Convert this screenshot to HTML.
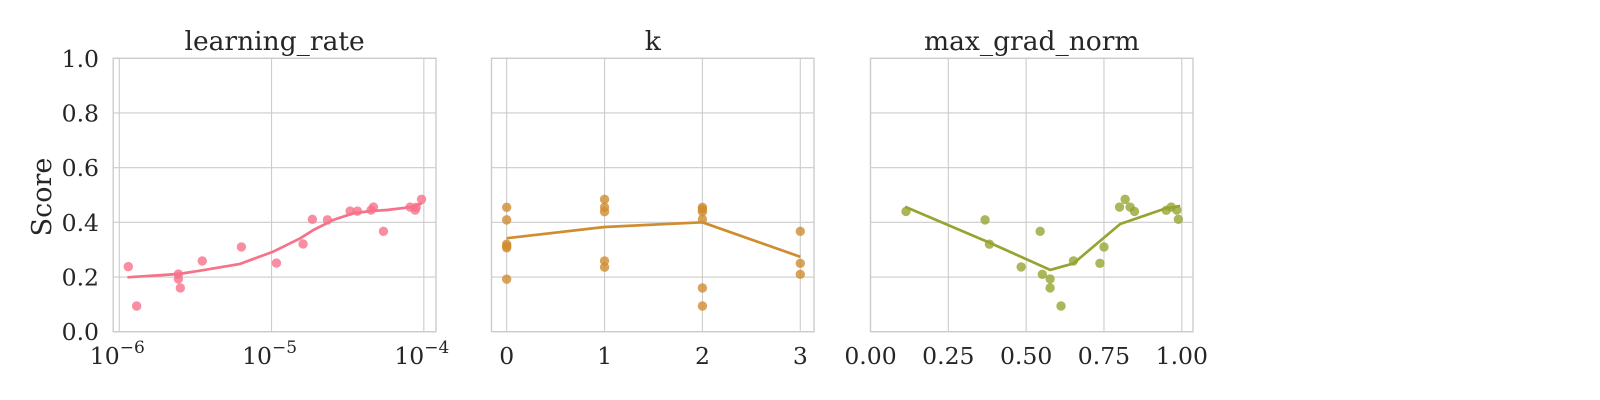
<!DOCTYPE html>
<html><head><meta charset="utf-8"><style>
html,body{margin:0;padding:0;background:#fff;}
svg{display:block;font-family:"DejaVu Serif","Liberation Serif",serif;}
</style></head><body>
<svg id="chart" width="1600" height="400" viewBox="0 0 1600 400" xmlns="http://www.w3.org/2000/svg"></svg>
<script>
// ---- data ----
const lrX = [-5.941,-5.886,-5.612,-5.612,-5.599,-5.455,-5.198,-4.968,-4.793,-4.732,-4.633,-4.484,-4.436,-4.346,-4.331,-4.265,-4.09,-4.057,-4.05,-4.015];
const lrY = [0.238,0.094,0.211,0.193,0.160,0.259,0.310,0.251,0.321,0.411,0.409,0.441,0.441,0.445,0.456,0.367,0.456,0.445,0.455,0.484];
const lrLineX = [-5.947,-5.612,-5.47,-5.207,-4.988,-4.81,-4.725,-4.594,-4.463,-4.353,-4.243,-4.068,-4.013];
const lrLineY = [0.199,0.211,0.223,0.248,0.293,0.342,0.372,0.409,0.433,0.441,0.445,0.457,0.470];

const kX = [0,0,0,0,0,0,1,1,1,1,1,2,2,2,2,2,2,3,3,3];
const kY = [0.455,0.409,0.320,0.313,0.307,0.192,0.484,0.455,0.439,0.259,0.236,0.455,0.448,0.439,0.411,0.160,0.094,0.367,0.250,0.210];
const kLineX = [0,1,2,3];
const kLineY = [0.342,0.383,0.400,0.274];

const mgX = [0.114,0.368,0.382,0.484,0.545,0.552,0.577,0.577,0.612,0.652,0.737,0.750,0.800,0.818,0.834,0.848,0.950,0.966,0.984,0.989];
const mgY = [0.440,0.409,0.320,0.237,0.367,0.210,0.193,0.160,0.094,0.259,0.250,0.310,0.456,0.484,0.456,0.440,0.444,0.456,0.445,0.411];
const mgLineX = [0.111,0.382,0.577,0.652,0.802,0.948,0.995];
const mgLineY = [0.457,0.326,0.226,0.250,0.394,0.451,0.460];

const yTicks = [0,0.2,0.4,0.6,0.8,1.0];
const yTickLabels = ["0.0","0.2","0.4","0.6","0.8","1.0"];
const lrTicks = [-6,-5,-4];
const lrTickLabels = ["\u22126","\u22125","\u22124"];
const kTicks = [0,1,2,3];
const kTickLabels = ["0","1","2","3"];
const mgTicks = [0,0.25,0.5,0.75,1.0];
const mgTickLabels = ["0.00","0.25","0.50","0.75","1.00"];

// ---- drawing ----
const svg = document.getElementById('chart');
const NS = 'http://www.w3.org/2000/svg';
function mk(tag, attrs, parent){
  const e = document.createElementNS(NS, tag);
  for (const k in attrs) e.setAttribute(k, attrs[k]);
  (parent||svg).appendChild(e);
  return e;
}
const TOP = 58.3, BOT = 331.7;
function yS(v){ return BOT - v*(BOT-TOP); }

function panel(cfg){
  const g = mk('g', {});
  
  
  const xS = v => cfg.left + (v - cfg.xmin)/(cfg.xmax - cfg.xmin)*(cfg.right - cfg.left);
  yTicks.forEach(t => {
    const l = mk('line', {x1:cfg.left, x2:cfg.right, y1:yS(t), y2:yS(t), stroke:'#cccccc', 'stroke-width':1.1}, g);
    
    
  });
  cfg.ticks.forEach((t,i) => {
    const l = mk('line', {x1:xS(t), x2:xS(t), y1:TOP, y2:BOT, stroke:'#cccccc', 'stroke-width':1.1}, g);
    
    
    const tx = mk('text', {x:xS(t), y:364, 'text-anchor':'middle', 'font-size':23.5, fill:'#262626'}, g);
    
    
    if (cfg.log){
      const a = document.createElementNS(NS,'tspan'); a.textContent='10'; tx.appendChild(a);
      const b = document.createElementNS(NS,'tspan'); b.setAttribute('dy','-11'); b.setAttribute('font-size','17'); b.textContent=cfg.labels[i]; tx.appendChild(b);
      tx.setAttribute('x', xS(t) - 2);
    } else tx.textContent = cfg.labels[i];
  });
  const fr = mk('rect', {x:cfg.left, y:TOP, width:cfg.right-cfg.left, height:BOT-TOP, fill:'none', stroke:'#cccccc', 'stroke-width':1.4}, g);
  
  
  const ti = mk('text', {x:(cfg.left+cfg.right)/2, y:50, 'text-anchor':'middle', 'font-size':26.5, fill:'#262626'}, g);
  ti.textContent = cfg.title;
  
  
  cfg.px.forEach((v,i) => {
    const c = mk('circle', {cx:xS(v), cy:yS(cfg.py[i]), r:4.7, fill:cfg.color, 'fill-opacity':0.8}, g);
    
    
  });
  const pts = cfg.lx.map((v,i) => xS(v).toFixed(1)+','+yS(cfg.ly[i]).toFixed(1)).join(' ');
  const pl = mk('polyline', {points:pts, fill:'none', stroke:cfg.color, 'stroke-width':2.7, 'stroke-linejoin':'round'}, g);
  
  
}

panel({name:'learning-rate', title:'learning_rate', left:113.2, right:436, xmin:-6.04, xmax:-3.92, log:true,
  ticks:lrTicks, labels:lrTickLabels, px:lrX, py:lrY, lx:lrLineX, ly:lrLineY, color:'#f77189'});
panel({name:'k', title:'k', left:491.5, right:814, xmin:-0.155, xmax:3.14,
  ticks:kTicks, labels:kTickLabels, px:kX, py:kY, lx:kLineX, ly:kLineY, color:'#d08c30'});
panel({name:'max-grad-norm', title:'max_grad_norm', left:870.5, right:1193, xmin:0, xmax:1.036,
  ticks:mgTicks, labels:mgTickLabels, px:mgX, py:mgY, lx:mgLineX, ly:mgLineY, color:'#97a431'});

yTicks.forEach((t,i) => {
  const tx = mk('text', {x:99, y:yS(t)+8.5, 'text-anchor':'end', 'font-size':23.5, fill:'#262626'});
  tx.textContent = yTickLabels[i];
  
  
});
const yl = mk('text', {x:0, y:0, 'text-anchor':'middle', 'font-size':27, fill:'#262626', transform:'translate(51,197) rotate(-90)'});
yl.textContent = 'Score';


</script>
</body></html>
